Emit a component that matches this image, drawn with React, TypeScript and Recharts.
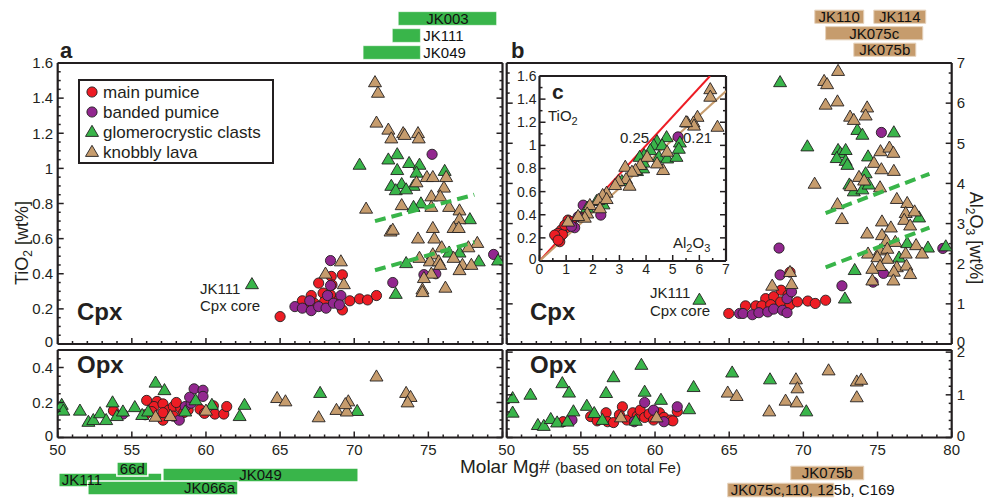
import React from 'react';
import { ScatterChart, Scatter, XAxis, YAxis, ReferenceArea } from 'recharts';

type Pt = [number, number];

const W = 987;
const H = 499;
const FONT = '"Liberation Sans", Arial, Helvetica, sans-serif';
const INK = '#231f20';
const RED = '#ed1c24';
const PURPLE = '#92278f';
const GREEN = '#39b54a';
const TAN = '#c69c6d';

// ---- Cpx, panel a: [Mg#, TiO2 wt%] ----
const cpxTiMain: Pt[] = [
  [65, 0.156], [67.6, 0.347], [69.2, 0.394], [68.45, 0.385], [67.1, 0.276], [67.9, 0.29],
  [68.5, 0.337], [66.7, 0.232], [67.3, 0.232], [68, 0.242], [68.4, 0.28], [69.2, 0.194],
  [69.7, 0.246], [70.36, 0.257], [70.9, 0.251], [71.5, 0.276], [66.5, 0.246], [68.9, 0.246],
];
const cpxTiBanded: Pt[] = [
  [75.25, 1.08], [79.4, 0.51], [72.6, 0.35], [68.4, 0.475], [74.7, 0.395], [75.5, 0.4],
  [66, 0.213], [66.5, 0.204], [67, 0.246], [67.1, 0.19], [67.6, 0.213], [68.1, 0.204],
  [68.2, 0.276], [68.6, 0.232], [69.1, 0.276], [69, 0.223], [68.4, 0.333],
];
const cpxTiGlomero: Pt[] = [
  [70.36, 1.02], [72.9, 1.08], [72.3, 1.05], [73.7, 1.03], [74.4, 1.02], [72.9, 0.99],
  [74.2, 0.975], [76.1, 0.985], [72.5, 0.9], [73.2, 0.91], [74, 0.9], [72.8, 0.875],
  [73.5, 0.88], [74.5, 0.8], [74, 0.78], [77.8, 0.71], [73.5, 0.46], [76.4, 0.52],
  [77.1, 0.52], [78.4, 0.47], [79.7, 0.475], [72.8, 0.285], [63.1, 0.34],
];
const cpxTiKnobbly: Pt[] = [
  [71.4, 1.49], [71.6, 1.43], [71.5, 1.26], [72.3, 1.22], [72.5, 1.17], [73.3, 1.2],
  [73.4, 1.19], [74.3, 1.2], [74.35, 1.17], [70.8, 0.77], [74.9, 0.95], [75.3, 0.95],
  [76.2, 0.95], [74.2, 0.92], [76.05, 0.89], [75.2, 0.84], [75.8, 0.84], [73.2, 0.79],
  [75.2, 0.78], [76.4, 0.78], [77.1, 0.76], [77.1, 0.71], [76.7, 0.66], [77.05, 0.66],
  [72.45, 0.64], [72.6, 0.65], [75.3, 0.66], [75.4, 0.6], [74.3, 0.6], [75.9, 0.55],
  [75.3, 0.51], [78.3, 0.575], [77.7, 0.55], [76.7, 0.49], [75.1, 0.47], [75.7, 0.47],
  [75.8, 0.45], [77.3, 0.45], [77.9, 0.45], [77.1, 0.42], [75.2, 0.4], [74.7, 0.375],
  [74.6, 0.31], [74.6, 0.295], [76.15, 0.32], [74.4, 0.49], [69.1, 0.47], [68.06, 0.4],
  [69.3, 0.34],
];
const cpxTiTrendUpper: Pt[] = [[71.4, 0.7], [78.1, 0.85]];
const cpxTiTrendLower: Pt[] = [[71.4, 0.42], [78.1, 0.58]];

// ---- Cpx, panel b: [Mg#, Al2O3 wt%] ----
const cpxAlMain: Pt[] = [
  [64.97, 0.76], [66.1, 0.95], [66.8, 0.95], [67.46, 1.13], [68, 1.18], [68.5, 1.34],
  [68.97, 1.22], [69.1, 1.79], [67.2, 0.95], [67.8, 0.98], [68.47, 1.05], [69.1, 0.98],
  [69.6, 1.05], [70.3, 1.07], [70.8, 1.01], [71.5, 1.09],
];
const cpxAlBanded: Pt[] = [
  [75.26, 5.27], [68.36, 2.39], [68.43, 1.72], [72.6, 1.45], [75.4, 1.76], [74.7, 1.54],
  [79.4, 2.38], [65.7, 0.76], [65.93, 0.76], [66.56, 0.73], [67, 0.78], [67.6, 0.8],
  [68, 0.87], [68.6, 0.84], [68.9, 0.78], [68.9, 1.13], [69.2, 1.3],
];
const cpxAlGlomero: Pt[] = [
  [68.43, 6.52], [70.27, 4.92], [72.34, 4.83], [72.5, 4.75], [72.85, 4.83], [72.25, 4.63],
  [72.85, 4.56], [72.97, 4.46], [73.64, 5.33], [73.98, 5.21], [76.1, 5.27], [74.36, 4.67],
  [74.2, 4.25], [73.1, 3.97], [73.4, 3.8], [73.98, 3.85], [74.4, 3.97], [73.46, 1.84],
  [72.8, 1.13], [76.45, 2.15], [77, 2.51], [77.8, 3.15], [78.4, 2.4], [79.6, 2.43],
  [62.99, 1.1],
];
const cpxAlKnobbly: Pt[] = [
  [72.34, 6.8], [71.4, 6.55], [71.6, 6.47], [71.5, 5.96], [72.3, 6.04], [73.15, 5.66],
  [73.4, 5.58], [74.3, 5.89], [74.2, 5.69], [70.76, 3.99], [75.2, 4.8], [75.8, 4.89],
  [76.07, 4.76], [74.76, 4.51], [75.26, 4.35], [76.1, 4.31], [73.75, 4.16], [74.1, 4.07],
  [75.17, 3.9], [73.2, 3.93], [72.3, 3.48], [72.6, 3.11], [76.3, 3.61], [77, 3.51],
  [76.9, 3.26], [77.5, 3.3], [76.8, 3.09], [77.2, 2.95], [75.3, 3.05], [75.9, 2.9],
  [74.3, 2.75], [75.3, 2.71], [75.6, 2.56], [76.2, 2.54], [75.17, 2.33], [75.66, 2.37],
  [74.36, 2.25], [74.99, 2.16], [75.66, 2.12], [76.9, 2.25], [77.6, 2.46], [78, 2.25],
  [75.17, 1.94], [76.3, 1.91], [76.95, 1.95], [74.65, 1.87], [77.2, 1.74], [76.1, 1.8],
  [76.07, 1.58], [74.65, 1.58], [67.9, 1.45], [69.1, 1.79], [69.2, 1.49],
];
const cpxAlTrendUpper: Pt[] = [[71.5, 3.26], [78.5, 4.24]];
const cpxAlTrendLower: Pt[] = [[71.5, 1.91], [78.5, 2.9]];

// ---- inset c: [Al2O3, TiO2] ----
const ratioMain: Pt[] = [
  [1.7, 0.397], [1.07, 0.354], [1.2, 0.34], [1.01, 0.288], [0.82, 0.268], [0.69, 0.239],
  [0.63, 0.21], [0.76, 0.2], [0.76, 0.167], [0.86, 0.23], [0.57, 0.224], [0.95, 0.31], [0.7, 0.18],
];
const ratioBanded: Pt[] = [
  [5.2, 1.073], [1.64, 0.483], [2.3, 0.512], [2.3, 0.397], [1.45, 0.383], [1.32, 0.288], [1.2, 0.3],
];
const ratioGlomero: Pt[] = [
  [4.77, 1.07], [4.41, 1.036], [4.29, 1.0], [4.6, 1.0], [4.16, 0.958], [3.93, 0.915],
  [3.76, 0.9], [4.48, 0.9], [4.79, 0.886], [5.14, 0.9], [5.27, 1.024], [5.23, 0.97],
  [3.66, 0.777], [3.89, 0.8], [3.09, 0.69], [2.14, 0.518], [2.4, 0.489], [1.79, 0.46], [3.9, 0.85],
];
const ratioKnobbly: Pt[] = [
  [6.41, 1.485], [6.41, 1.42], [6.68, 1.16], [5.93, 1.246], [5.55, 1.197], [5.78, 1.197],
  [5.8, 1.17], [5.5, 1.2], [4.79, 0.944], [4.64, 0.786], [4.41, 0.843], [4.04, 0.9],
  [3.78, 0.829], [3.6, 0.786], [3.22, 0.814], [3.47, 0.771], [3.25, 0.708], [2.96, 0.69],
  [3.38, 0.65], [2.84, 0.656], [2.52, 0.59], [2.37, 0.57], [2.21, 0.527], [2.52, 0.535],
  [1.89, 0.483], [1.79, 0.41], [1.7, 0.374], [1.45, 0.388], [2.27, 0.455], [1.07, 0.34],
];
const ratio025: Pt[] = [[0, 0], [6.4, 1.6]];
const ratio021: Pt[] = [[0, 0], [7, 1.47]];

// ---- Opx: [Mg#, TiO2] ----
const opxTiMain: Pt[] = [
  [53.76, 0.153], [56, 0.212], [56.7, 0.206], [56.5, 0.177], [57.1, 0.192], [57.5, 0.157],
  [57.8, 0.177], [58.3, 0.167], [57.1, 0.099], [57.8, 0.122], [58.5, 0.142], [58.8, 0.157],
  [59.6, 0.161], [59.9, 0.138], [60.5, 0.181], [60.6, 0.134], [61.2, 0.134], [61.4, 0.177],
  [56.35, 0.148], [57.1, 0.142], [55.9, 0.13], [58, 0.2],
];
const opxTiBanded: Pt[] = [
  [59.2, 0.278], [59.8, 0.27], [59.8, 0.235], [58.2, 0.099], [54.4, 0.134], [58.6, 0.177],
  [59, 0.196], [58.9, 0.23],
];
const opxTiGlomero: Pt[] = [
  [50.27, 0.186], [50.38, 0.153], [51.5, 0.153], [52.07, 0.089], [52.4, 0.099], [52.86, 0.138],
  [53.27, 0.099], [53.7, 0.2], [53.99, 0.122], [54.4, 0.148], [55.2, 0.173], [55.7, 0.128],
  [56.1, 0.148], [56.6, 0.313], [57.2, 0.27], [58.6, 0.148], [59.3, 0.212], [60.4, 0.186],
  [62.27, 0.122], [62.6, 0.186], [67.7, 0.254], [70.2, 0.151],
];
const opxTiKnobbly: Pt[] = [
  [64.8, 0.225], [65.36, 0.206], [67.6, 0.115], [68.8, 0.157], [69.5, 0.148], [69.6, 0.206],
  [69.4, 0.19], [71.5, 0.348], [73.5, 0.254], [73.8, 0.231], [73.6, 0.2], [56.6, 0.118],
  [57.6, 0.122], [60, 0.153],
];

// ---- Opx: [Mg#, Al2O3] ----
const opxAlMain: Pt[] = [
  [53.8, 0.37], [57.8, 0.72], [55.66, 0.49], [56.1, 0.39], [56.7, 0.58], [56.8, 0.37],
  [57.2, 0.35], [57.6, 0.53], [58.1, 0.41], [58.5, 0.58], [58.8, 0.5], [59, 0.64],
  [59.3, 0.47], [59.6, 0.55], [59.9, 0.41], [60.3, 0.58], [60.6, 0.47], [61.05, 0.41],
  [61.2, 0.39], [61.5, 0.61],
];
const opxAlBanded: Pt[] = [
  [54.4, 0.41], [59.3, 0.82], [59.9, 0.64], [61.5, 0.72], [58.6, 0.37], [60.6, 0.37],
];
const opxAlGlomero: Pt[] = [
  [50.4, 0.92], [50.4, 0.58], [51.6, 1.0], [52.1, 0.29], [52.5, 0.27], [52.97, 0.43],
  [53.4, 0.35], [53.75, 1.27], [54.2, 1.05], [54.1, 0.37], [54.5, 0.61], [55.4, 0.74],
  [55.9, 0.57], [56.45, 0.41], [56.7, 1.04], [57.2, 1.41], [58.7, 0.39], [59.08, 1.7],
  [59.3, 1.07], [60.4, 0.88], [62.3, 0.66], [62.6, 1.18], [65.2, 1.52], [67.75, 1.36],
  [70.2, 0.61],
];
const opxAlKnobbly: Pt[] = [
  [64.9, 1.05], [65.5, 0.97], [67.7, 0.61], [68.8, 0.86], [69.55, 0.82], [69.5, 1.36],
  [69.6, 1.15], [71.7, 1.57], [73.6, 1.31], [73.9, 1.35], [73.6, 0.94], [57.7, 0.47],
  [60.1, 0.47],
];

// ---- sample Mg# ranges shown as bars outside the panels ----
type RangeBar = { name: string; from: number; to: number; lane: number };
const rangesTopLeft: RangeBar[] = [
  { name: 'JK003', from: 72.97, to: 79.6, lane: 0 },
  { name: 'JK111', from: 72.57, to: 74.46, lane: 1 },
  { name: 'JK049', from: 70.6, to: 74.46, lane: 2 },
];
const rangesTopRight: RangeBar[] = [
  { name: 'JK110', from: 70.77, to: 74.07, lane: 0 },
  { name: 'JK114', from: 74.75, to: 78.25, lane: 0 },
  { name: 'JK075c', from: 71.5, to: 78.05, lane: 1 },
  { name: 'JK075b', from: 73.4, to: 77.58, lane: 2 },
];
const rangesBottomLeft: RangeBar[] = [
  { name: 'JK111', from: 50.07, to: 57.03, lane: 1.375 },
  { name: 'JK049', from: 57.09, to: 70.27, lane: 0.75 },
  { name: '66d', from: 53.99, to: 56.08, lane: 0 },
  { name: 'JK066a', from: 52.03, to: 62.16, lane: 2.375 },
];
const rangesBottomRight: RangeBar[] = [
  { name: 'JK075b', from: 69.15, to: 74.07, lane: 0 },
  { name: 'JK075c,110, 125b, C169', from: 64.9, to: 72.05, lane: 1 },
];

// ---- axis ticks ----
const mgMajor = [50, 55, 60, 65, 70, 75, 80];
const mgLabelsLeft = [50, 55, 60, 65, 70, 75];
const tiMajor = [0, 0.2, 0.4, 0.6, 0.8, 1, 1.2, 1.4, 1.6];
const opxTiMajor = [0, 0.2, 0.4];
const alMajor = [0, 1, 2, 3, 4, 5, 6, 7];
const opxAlMajor = [0, 1, 2];

const steps = (from: number, to: number, step: number) => {
  const out: number[] = [];
  for (let i = 0; from + i * step <= to + 1e-9; i++) out.push(+(from + i * step).toFixed(4));
  return out;
};

const groups = [
  { name: 'main pumice', fill: RED, tri: false },
  { name: 'banded pumice', fill: PURPLE, tri: false },
  { name: 'glomerocrystic clasts', fill: GREEN, tri: true },
  { name: 'knobbly lava', fill: TAN, tri: true },
];

const toXY = (pts: Pt[]) => pts.map(([x, y]) => ({ x, y }));
const abs: React.CSSProperties = { position: 'absolute', left: 0, top: 0 };

const marker = (fill: string, tri: boolean, cx: number, cy: number) =>
  tri ? (
    <polygon
      points={`${cx},${cy - 6.7} ${cx - 6.5},${cy + 4.4} ${cx + 6.5},${cy + 4.4}`}
      fill={fill}
      stroke={INK}
      strokeWidth={0.9}
    />
  ) : (
    <circle cx={cx} cy={cy} r={5.1} fill={fill} stroke={INK} strokeWidth={0.9} />
  );

const near = (list: number[], v: number) => list.some((m) => Math.abs(m - v) < 1e-6);

type Side = 'bottom' | 'top' | 'left' | 'right';
const makeTick =
  (side: Side, major: number[], labeled: number[], fs: number, gap: number) =>
  (props: any) => {
    const { x, y, payload } = props;
    const v: number = payload.value;
    const len = near(major, v) ? 6 : 3;
    const dx = side === 'left' ? len : side === 'right' ? -len : 0;
    const dy = side === 'bottom' ? -len : side === 'top' ? len : 0;
    const txt = String(+v.toFixed(2));
    const tp = { fill: INK, fontSize: fs, fontFamily: FONT };
    // the zero label sits a little above its tick, as in the reference
    const lift = v === 0 ? -2 : 0;
    let label = null;
    if (near(labeled, v)) {
      if (side === 'bottom')
        label = <text x={x} y={y + gap} textAnchor="middle" {...tp}>{txt}</text>;
      else if (side === 'left')
        label = <text x={x - gap} y={y + lift} dy="0.35em" textAnchor="end" {...tp}>{txt}</text>;
      else if (side === 'right')
        label = <text x={x + gap} y={y + lift} dy="0.35em" textAnchor="start" {...tp}>{txt}</text>;
    }
    return (
      <g>
        <line x1={x} y1={y} x2={x + dx} y2={y + dy} stroke={INK} strokeWidth={1.5} />
        {label}
      </g>
    );
  };

type Box = { left: number; right: number; top: number; bottom: number };
type PanelProps = {
  plot: Box;
  xDomain: [number, number];
  yDomain: [number, number];
  xTicks: number[];
  xMajor: number[];
  yTicks: number[];
  yMajor: number[];
  bottomLabels?: number[];
  leftLabels?: number[];
  rightLabels?: number[];
  small?: boolean;
  children?: React.ReactNode;
};

// every axis is 1px thick, so the margins are pulled in by 1px to keep the plot box exact
const AX = 1;

function Panel(p: PanelProps) {
  const fs = p.small ? 14 : 15;
  const common = {
    type: 'number' as const,
    interval: 0 as const,
    tickLine: false,
    tickSize: 0,
    tickMargin: 0,
    allowDataOverflow: true,
    axisLine: { stroke: INK, strokeWidth: 2.2 },
  };
  return (
    <div style={abs}>
      <ScatterChart
        width={W}
        height={H}
        margin={{
          left: p.plot.left - AX,
          right: W - p.plot.right - AX,
          top: p.plot.top - AX,
          bottom: H - p.plot.bottom - AX,
        }}
      >
        <XAxis xAxisId="b" orientation="bottom" dataKey="x" domain={p.xDomain} ticks={p.xTicks} height={AX}
          tick={makeTick('bottom', p.xMajor, p.bottomLabels ?? [], fs, p.small ? 13 : 17)} {...common} />
        <XAxis xAxisId="t" orientation="top" domain={p.xDomain} ticks={p.xTicks} height={AX}
          tick={makeTick('top', p.xMajor, [], fs, 0)} {...common} />
        <YAxis yAxisId="l" orientation="left" dataKey="y" domain={p.yDomain} ticks={p.yTicks} width={AX}
          tick={makeTick('left', p.yMajor, p.leftLabels ?? [], fs, p.small ? 3 : 4.5)} {...common} />
        <YAxis yAxisId="r" orientation="right" domain={p.yDomain} ticks={p.yTicks} width={AX}
          tick={makeTick('right', p.yMajor, p.rightLabels ?? [], fs, 5)} {...common} />
        {p.children}
      </ScatterChart>
    </div>
  );
}

const pointSeries = (sets: Pt[][], prefix: string) =>
  sets.map((pts, i) => {
    const g = groups[i];
    return (
      <Scatter
        key={prefix + g.name}
        name={g.name}
        xAxisId="b"
        yAxisId="l"
        data={toXY(pts)}
        isAnimationActive={false}
        shape={(s: any) => marker(g.fill, g.tri, s.cx, s.cy)}
      />
    );
  });

const lineSeries = (key: string, pts: Pt[], stroke: string, width: number, dash?: string) => (
  <Scatter
    key={key}
    xAxisId="b"
    yAxisId="l"
    data={toXY(pts)}
    isAnimationActive={false}
    line={{ stroke, strokeWidth: width, strokeDasharray: dash }}
    shape={() => <g />}
  />
);

type StripProps = {
  bars: RangeBar[];
  plot: Box;
  lanes: number;
  barGap: number;
  barSize: number;
  fill: string;
  stroke: string;
  strokeWidth: number;
  labelPos: Record<string, string>;
};

function Strip(s: StripProps) {
  return (
    <div style={abs}>
      <ScatterChart
        width={W}
        height={H}
        margin={{ left: s.plot.left, right: W - s.plot.right, top: s.plot.top, bottom: H - s.plot.bottom }}
      >
        <XAxis xAxisId="s" type="number" dataKey="x" domain={[50, 80]} hide allowDataOverflow />
        <YAxis yAxisId="s" type="number" dataKey="y" domain={[0, s.lanes]} reversed hide allowDataOverflow />
        <Scatter xAxisId="s" yAxisId="s" data={[]} isAnimationActive={false} />
        {s.bars.map((b) => (
          <ReferenceArea
            key={b.name + b.lane}
            xAxisId="s"
            yAxisId="s"
            x1={b.from}
            x2={b.to}
            y1={b.lane + s.barGap}
            y2={b.lane + s.barGap + s.barSize}
            fill={s.fill}
            fillOpacity={1}
            stroke={s.stroke}
            strokeWidth={s.strokeWidth}
            ifOverflow="visible"
            label={{
              value: b.name,
              position: (s.labelPos[b.name] ?? 'center') as any,
              offset: 3,
              fill: '#111',
              fontSize: 15,
              fontFamily: FONT,
            }}
          />
        ))}
      </ScatterChart>
    </div>
  );
}

const PA: Box = { left: 57.7, right: 502.5, top: 63, bottom: 344 };
const PAO: Box = { left: 57.7, right: 502.5, top: 350, bottom: 437.5 };
const PB: Box = { left: 506.7, right: 951.7, top: 63, bottom: 344 };
const PBO: Box = { left: 506.7, right: 951.7, top: 350, bottom: 437.5 };
const PC: Box = { left: 539.5, right: 726, top: 76, bottom: 261 };

export default function App() {
  const mgTicks = steps(50, 80, 1);
  const txt = { fill: INK, fontFamily: FONT };
  return (
    <div style={{ position: 'absolute', left: 0, top: 0, width: W, height: H, background: '#fff', overflow: 'hidden' }}>
      <Panel plot={PA} xDomain={[50, 80]} yDomain={[0, 1.6]} xTicks={mgTicks} xMajor={mgMajor}
        yTicks={steps(0, 1.6, 0.05)} yMajor={tiMajor} leftLabels={tiMajor}>
        {pointSeries([cpxTiMain, cpxTiBanded, cpxTiGlomero, cpxTiKnobbly], 'a')}
        {lineSeries('au', cpxTiTrendUpper, GREEN, 4, '11 6')}
        {lineSeries('al', cpxTiTrendLower, GREEN, 4, '11 6')}
      </Panel>

      <Panel plot={PAO} xDomain={[50, 80]} yDomain={[0, 0.5]} xTicks={mgTicks} xMajor={mgMajor}
        yTicks={steps(0, 0.5, 0.05)} yMajor={opxTiMajor} leftLabels={opxTiMajor} bottomLabels={mgLabelsLeft}>
        {pointSeries([opxTiMain, opxTiBanded, opxTiGlomero, opxTiKnobbly], 'ao')}
      </Panel>

      <Panel plot={PB} xDomain={[50, 80]} yDomain={[0, 7]} xTicks={mgTicks} xMajor={mgMajor}
        yTicks={steps(0, 7, 0.25)} yMajor={alMajor} rightLabels={alMajor}>
        {pointSeries([cpxAlMain, cpxAlBanded, cpxAlGlomero, cpxAlKnobbly], 'b')}
        {lineSeries('bu', cpxAlTrendUpper, GREEN, 4, '11 6')}
        {lineSeries('bl', cpxAlTrendLower, GREEN, 4, '11 6')}
      </Panel>

      <Panel plot={PBO} xDomain={[50, 80]} yDomain={[0, 2.05]} xTicks={mgTicks} xMajor={mgMajor}
        yTicks={steps(0, 2, 0.2)} yMajor={opxAlMajor} rightLabels={opxAlMajor} bottomLabels={mgMajor}>
        {pointSeries([opxAlMain, opxAlBanded, opxAlGlomero, opxAlKnobbly], 'bo')}
      </Panel>

      <div style={{ position: 'absolute', left: PC.left, top: PC.top, width: PC.right - PC.left, height: PC.bottom - PC.top, background: '#fff' }} />
      <Panel plot={PC} xDomain={[0, 7]} yDomain={[0, 1.6]} xTicks={steps(0, 7, 0.5)} xMajor={steps(0, 7, 1)}
        yTicks={steps(0, 1.6, 0.1)} yMajor={tiMajor} bottomLabels={steps(0, 7, 1)} leftLabels={tiMajor} small>
        {lineSeries('r25', ratio025, RED, 2)}
        {lineSeries('r21', ratio021, TAN, 2)}
        {pointSeries([ratioMain, ratioBanded, ratioGlomero, ratioKnobbly], 'c')}
      </Panel>

      <Strip bars={rangesTopLeft} plot={{ left: PA.left, right: PA.right, top: 10, bottom: 61 }} lanes={3}
        barGap={0.1} barSize={0.8} fill={GREEN} stroke="#fff" strokeWidth={0.5}
        labelPos={{ JK003: 'center', JK111: 'right', JK049: 'right' }} />
      <Strip bars={rangesTopRight} plot={{ left: PB.left, right: PB.right, top: 8.5, bottom: 58 }} lanes={3}
        barGap={0.1} barSize={0.8} fill={TAN} stroke="#e6d2bb" strokeWidth={1}
        labelPos={{}} />
      <Strip bars={rangesBottomLeft} plot={{ left: PA.left, right: PA.right, top: 462, bottom: 497.2 }} lanes={4.4}
        barGap={0} barSize={1.75} fill={GREEN} stroke="#fff" strokeWidth={1.5}
        labelPos={{ JK111: 'insideLeft', JK066a: 'insideRight', JK049: 'center', '66d': 'center' }} />
      <Strip bars={rangesBottomRight} plot={{ left: PB.left, right: PB.right, top: 464.5, bottom: 498.5 }} lanes={2}
        barGap={0.1} barSize={0.8} fill={TAN} stroke="#e6d2bb" strokeWidth={1}
        labelPos={{ 'JK075c,110, 125b, C169': 'insideLeft' }} />

      <svg width={W} height={H} style={{ ...abs, pointerEvents: 'none' }}>
        <text x={60} y={58} fontSize={22} fontWeight="bold" {...txt}>a</text>
        <text x={511} y={58} fontSize={22} fontWeight="bold" {...txt}>b</text>
        <text x={77} y={320} fontSize={24} fontWeight="bold" {...txt}>Cpx</text>
        <text x={530} y={320} fontSize={24} fontWeight="bold" {...txt}>Cpx</text>
        <text x={77} y={373} fontSize={24} fontWeight="bold" {...txt}>Opx</text>
        <text x={530} y={373} fontSize={24} fontWeight="bold" {...txt}>Opx</text>
        <text x={200} y={294} fontSize={15} {...txt}>JK111</text>
        <text x={200} y={311} fontSize={15} {...txt}>Cpx core</text>
        <text x={650} y={298} fontSize={15} {...txt}>JK111</text>
        <text x={650} y={316} fontSize={15} {...txt}>Cpx core</text>

        <text transform="translate(28,243) rotate(-90)" textAnchor="middle" fontSize={18} {...txt}>
          TiO<tspan dy={4} fontSize={12}>2</tspan><tspan dy={-4}> [wt%]</tspan>
        </text>
        <text transform="translate(970,238) rotate(90)" textAnchor="middle" fontSize={18} {...txt}>
          Al<tspan dy={4} fontSize={12}>2</tspan><tspan dy={-4}>O</tspan><tspan dy={4} fontSize={12}>3</tspan>
          <tspan dy={-4}> [wt%]</tspan>
        </text>
        <text x={460} y={473} fontSize={19} {...txt}>
          Molar Mg# <tspan fontSize={15}>(based on total Fe)</tspan>
        </text>

        <text x={552} y={99} fontSize={21} fontWeight="bold" {...txt}>c</text>
        <text x={548} y={121} fontSize={15} {...txt}>
          TiO<tspan dy={4} fontSize={11}>2</tspan>
        </text>
        <text x={673} y={248} fontSize={15} {...txt}>
          Al<tspan dy={4} fontSize={11}>2</tspan><tspan dy={-4}>O</tspan><tspan dy={4} fontSize={11}>3</tspan>
        </text>
        <text x={620} y={143} fontSize={15} {...txt}>0.25</text>
        <text x={683} y={143} fontSize={15} {...txt}>0.21</text>

        <rect x={79} y={80} width={194} height={83} fill="#fff" stroke={INK} strokeWidth={2} />
        {groups.map((g, i) => (
          <g key={g.name}>
            {marker(g.fill, g.tri, 92, 92 + i * 20)}
            <text x={103} y={98 + i * 20} fontSize={17} {...txt}>{g.name}</text>
          </g>
        ))}
      </svg>
    </div>
  );
}
